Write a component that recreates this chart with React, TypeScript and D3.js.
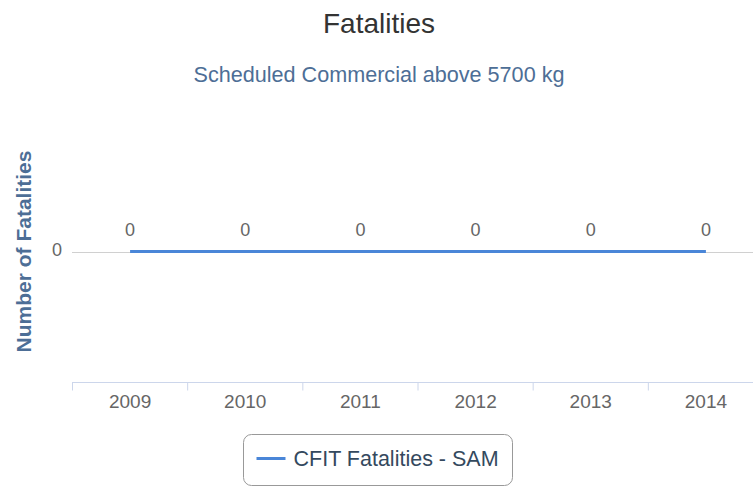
import React, { useRef, useEffect } from "react";
import * as d3 from "d3";

const years = ["2009", "2010", "2011", "2012", "2013", "2014"];
const fatalities = [0, 0, 0, 0, 0, 0];
const seriesName = "CFIT Fatalities - SAM";
const yTicks = [0];

const App = () => {
  const ref = useRef<SVGSVGElement>(null);

  useEffect(() => {
    const svg = d3.select(ref.current);
    svg.selectAll("*").remove();

    const width = 753;
    const height = 487;
    const margin = { top: 120, right: -10, bottom: 104, left: 72 };
    const font = "'Liberation Sans', Arial, sans-serif";

    svg.attr("width", width).attr("height", height).style("font-family", font);

    const x = d3
      .scaleBand()
      .domain(years)
      .range([margin.left + 0.5, width - margin.right + 0.5]);

    const y = d3
      .scaleLinear()
      .domain([-1, 1])
      .range([height - margin.bottom, margin.top]);

    // title + subtitle
    svg
      .append("text")
      .attr("x", 379)
      .attr("y", 33)
      .attr("text-anchor", "middle")
      .attr("font-size", "28px")
      .attr("fill", "#333333")
      .text("Fatalities");

    svg
      .append("text")
      .attr("x", 379)
      .attr("y", 82)
      .attr("text-anchor", "middle")
      .attr("font-size", "21.6px")
      .attr("fill", "#4d6e96")
      .text("Scheduled Commercial above 5700 kg");

    // grid lines
    svg
      .append("g")
      .selectAll("line")
      .data(yTicks)
      .join("line")
      .attr("x1", margin.left)
      .attr("x2", width)
      .attr("y1", (d) => Math.round(y(d)) + 0.5)
      .attr("y2", (d) => Math.round(y(d)) + 0.5)
      .attr("stroke", "#d0d0d0")
      .attr("stroke-width", 1);

    // y labels
    svg
      .append("g")
      .selectAll("text")
      .data(yTicks)
      .join("text")
      .attr("x", 62)
      .attr("y", (d) => y(d) + 4)
      .attr("text-anchor", "end")
      .attr("font-size", "18px")
      .attr("fill", "#666666")
      .text((d) => d);

    svg
      .append("text")
      .attr("transform", `translate(31,${y(0)}) rotate(-90)`)
      .attr("text-anchor", "middle")
      .attr("font-size", "21px")
      .attr("font-weight", "bold")
      .attr("fill", "#4d6e96")
      .text("Number of Fatalities");

    // x axis
    const axisY = height - margin.bottom - 0.5;
    svg
      .append("line")
      .attr("x1", margin.left)
      .attr("x2", width)
      .attr("y1", axisY)
      .attr("y2", axisY)
      .attr("stroke", "#ccd6eb");

    svg
      .append("g")
      .selectAll("line")
      .data(years)
      .join("line")
      .attr("x1", (d) => x(d)!)
      .attr("x2", (d) => x(d)!)
      .attr("y1", axisY)
      .attr("y2", axisY + 8)
      .attr("stroke", "#ccd6eb");

    svg
      .append("g")
      .selectAll("text")
      .data(years)
      .join("text")
      .attr("x", (d) => x(d)! + x.bandwidth() / 2)
      .attr("y", 408)
      .attr("text-anchor", "middle")
      .attr("font-size", "19px")
      .attr("fill", "#666666")
      .text((d) => d);

    // series line
    const cx = (i: number) => x(years[i])! + x.bandwidth() / 2;
    const line = d3
      .line<number>()
      .x((d, i) => cx(i))
      .y((d) => y(d));

    svg
      .append("path")
      .datum(fatalities)
      .attr("d", line)
      .attr("fill", "none")
      .attr("stroke", "#4a86d8")
      .attr("stroke-width", 3);

    svg
      .append("g")
      .selectAll("text")
      .data(fatalities)
      .join("text")
      .attr("x", (d, i) => cx(i))
      .attr("y", (d) => y(d) - 16)
      .attr("text-anchor", "middle")
      .attr("font-size", "18px")
      .attr("fill", "#666666")
      .text((d) => d);

    // legend
    const lg = svg.append("g").attr("transform", "translate(243.5,434.5)");
    lg.append("rect")
      .attr("width", 269)
      .attr("height", 51)
      .attr("rx", 8)
      .attr("fill", "#ffffff")
      .attr("stroke", "#999999");
    lg.append("line")
      .attr("x1", 13)
      .attr("x2", 42)
      .attr("y1", 24)
      .attr("y2", 24)
      .attr("stroke", "#4a86d8")
      .attr("stroke-width", 3);
    lg.append("text")
      .attr("x", 50)
      .attr("y", 31)
      .attr("font-size", "21.5px")
      .attr("fill", "#34495e")
      .text(seriesName);
  }, []);

  return <svg ref={ref} style={{ position: "absolute", left: 0, top: 0 }}></svg>;
};

export default App;
